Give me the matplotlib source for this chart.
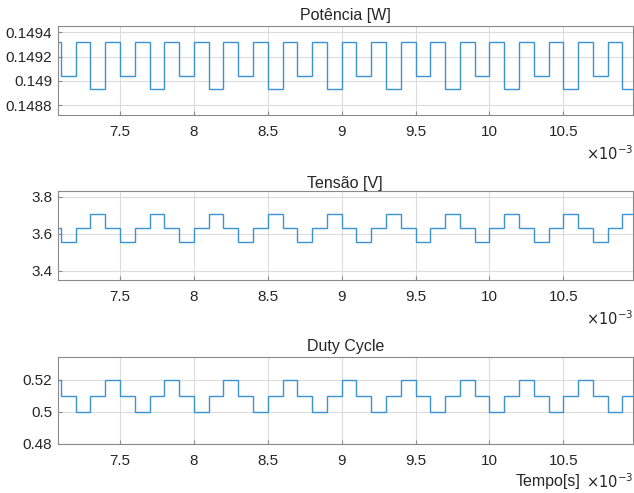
import numpy as np
import matplotlib.pyplot as plt

# time edges (ms), one step every 0.1 ms
tempo = [7.0, 7.1, 7.2, 7.3, 7.4, 7.5, 7.6, 7.7, 7.8, 7.9,
         8.0, 8.1, 8.2, 8.3, 8.4, 8.5, 8.6, 8.7, 8.8, 8.9,
         9.0, 9.1, 9.2, 9.3, 9.4, 9.5, 9.6, 9.7, 9.8, 9.9,
         10.0, 10.1, 10.2, 10.3, 10.4, 10.5, 10.6, 10.7, 10.8, 10.9,
         11.0]

potencia = [0.14932, 0.14904, 0.14932, 0.14893] * 10
tensao = [3.63, 3.555, 3.63, 3.705] * 10
duty = [0.52, 0.51, 0.50, 0.51] * 10

titles = ["Potência [W]", "Tensão [V]", "Duty Cycle"]
series = [potencia, tensao, duty]
yticks = [[0.1488, 0.149, 0.1492, 0.1494], [3.4, 3.6, 3.8], [0.48, 0.5, 0.52]]
ylims = [(0.14872, 0.149454), (3.35, 3.8325), (0.48, 0.5345)]
xticks = [7.5, 8, 8.5, 9, 9.5, 10, 10.5]

plt.rcParams['font.family'] = ['Liberation Sans', 'DejaVu Sans']
plt.rcParams['text.color'] = '#262626'

fig = plt.figure(figsize=(6.34, 4.93), dpi=100)
positions = [[0.091, 0.7667, 0.907, 0.1811],
             [0.091, 0.432, 0.907, 0.1811],
             [0.091, 0.0994, 0.907, 0.177]]
title_pads = [4, 1, 4]

for i in range(3):
    ax = fig.add_axes(positions[i])
    ax.stairs(series[i], tempo, baseline=None, color='#3b92d4', linewidth=1.0)
    ax.set_xlim(7.078, 10.97)
    ax.set_ylim(*ylims[i])
    ax.set_xticks(xticks)
    ax.set_xticklabels([f'{v:g}' for v in xticks])
    ax.set_yticks(yticks[i])
    ax.set_yticklabels([f'{v:g}' for v in yticks[i]])
    ax.grid(True, color='#dcdcdc', linewidth=0.8)
    ax.set_axisbelow(True)
    for s in ax.spines.values():
        s.set_color('#8a8a8a')
        s.set_linewidth(0.8)
    ax.tick_params(direction='in', length=3, color='#8a8a8a',
                   labelsize=11, labelcolor='#262626')
    ax.tick_params(axis='x', pad=7)
    ax.tick_params(axis='y', pad=4)
    ax.set_title(titles[i], fontsize=11.5, pad=title_pads[i])
    ax.text(1.0, -0.33, r'$\times10^{-3}$', transform=ax.transAxes,
            ha='right', va='top', fontsize=10.5, color='#262626')
    if i == 2:
        ax.text(0.910, -0.34, 'Tempo[s]', transform=ax.transAxes,
                ha='right', va='top', fontsize=11.5, color='#262626')

fig.savefig('out.png', dpi=100)
